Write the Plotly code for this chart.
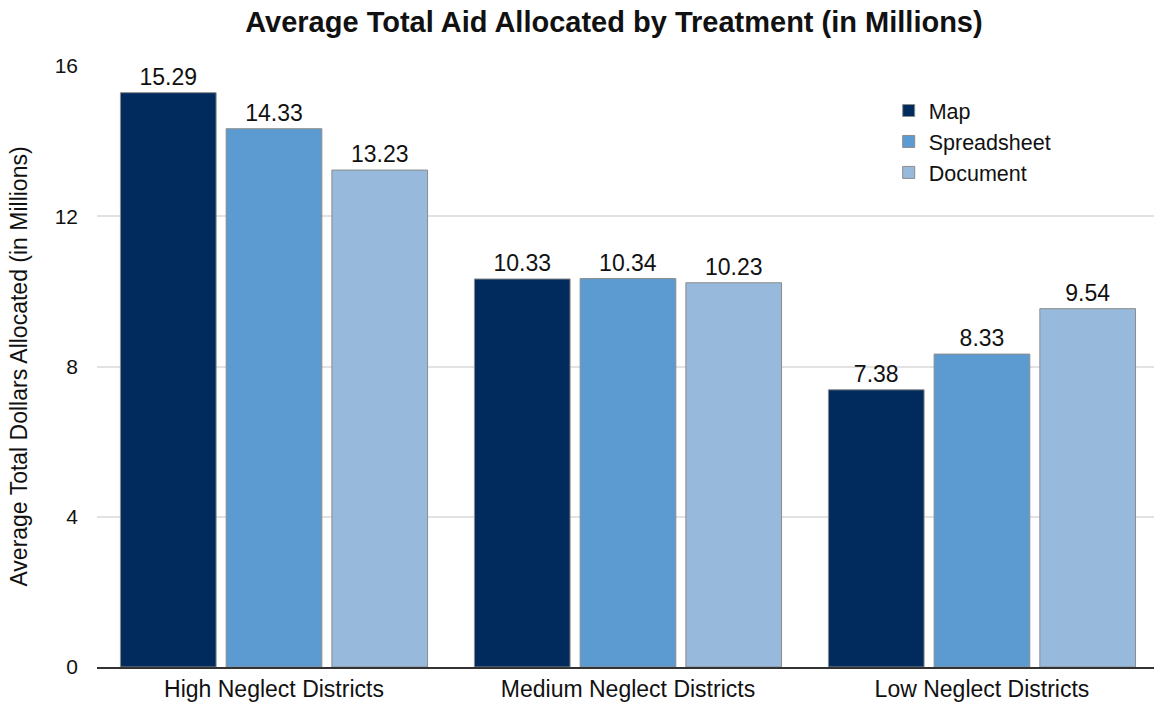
import plotly.graph_objects as go

categories = ["High Neglect Districts", "Medium Neglect Districts", "Low Neglect Districts"]
map_vals = [15.29, 10.33, 7.38]
spreadsheet_vals = [14.33, 10.34, 8.33]
document_vals = [13.23, 10.23, 9.54]
series_names = ["Map", "Spreadsheet", "Document"]
colors = ["#012b5d", "#5c9bd1", "#97b9db"]
y_ticks = [0, 4, 8, 12, 16]

FONT = "Liberation Sans, Arial, Helvetica"

fig = go.Figure()
for name, vals, col in zip(series_names, [map_vals, spreadsheet_vals, document_vals], colors):
    fig.add_trace(go.Bar(
        x=categories, y=vals, name=name,
        marker=dict(color=col, line=dict(color="#8c8c8c", width=1)),
        text=[f"{v:.2f}" for v in vals], textposition="outside",
        textfont=dict(family=FONT, size=23, color="#111"),
        cliponaxis=False,
    ))

fig.update_layout(
    width=1154, height=705,
    margin=dict(l=97, r=0, t=66, b=38),
    paper_bgcolor="white", plot_bgcolor="white",
    barmode="group", bargap=0.104, bargroupgap=0.095,
    font=dict(family=FONT, size=23, color="#111"),
    title=dict(text="<b>Average Total Aid Allocated by Treatment (in Millions)</b>",
               x=0.532, xanchor="center", xref="container",
               y=0.969, yanchor="middle", yref="container",
               font=dict(size=29, color="#111")),
    legend=dict(x=0.749, y=0.96, xanchor="left", yanchor="top",
                font=dict(size=21.5), bgcolor="rgba(0,0,0,0)", tracegroupgap=0,
                itemwidth=30),
    yaxis=dict(range=[0, 16], tickvals=y_ticks, showgrid=True, gridcolor="#e2e2e2",
               gridwidth=2, zeroline=False, ticks="", ticklen=0, automargin=False,
               ticklabelstandoff=18,
               title=dict(text="Average Total Dollars Allocated (in Millions)", standoff=20,
                          font=dict(size=23)),
               tickfont=dict(size=21)),
    xaxis=dict(showline=True, linecolor="#333", linewidth=2, ticks="", automargin=False,
               range=[-0.5, 2.486],
               tickfont=dict(size=23)),
)

fig.write_html("out.html")
